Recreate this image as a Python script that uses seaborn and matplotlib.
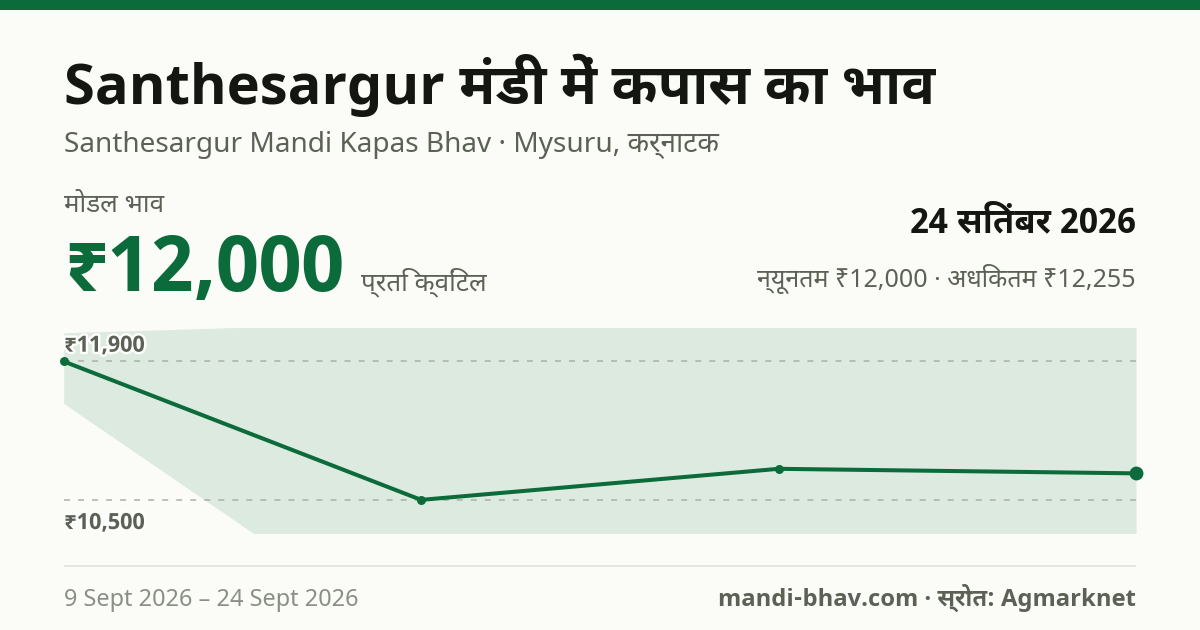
import matplotlib
matplotlib.use('Agg')
import matplotlib.pyplot as plt
import matplotlib.patheffects as pe
import seaborn as sns
import pandas as pd

dates = ['9 Sept', '14 Sept', '19 Sept', '24 Sept']
modal = [11900, 10500, 10814, 10768]
low = [11475, 9000, 9000, 9000]
high = [12190, 12300, 12275, 12255]
grid_values = [11900, 10500]
grid_labels = ['₹11,900', '₹10,500']

GREEN = '#0B6B3A'
BG = '#FBFCF8'
INK = '#141612'
MUTED = '#5C6156'
FAINT = '#8A8F85'

sns.set_theme(style='white')
plt.rcParams['font.family'] = ['Noto Sans', 'DejaVu Sans']
plt.rcParams['lines.scale_dashes'] = False
BOLD = ['Noto Sans Devanagari UI', 'Noto Sans Duployan', 'Noto Sans', 'DejaVu Sans']

W, H = 1200, 630
fig = plt.figure(figsize=(W / 100, H / 100), dpi=100, facecolor=BG)

def T(x, y, s, px, color, weight='normal', ha='left'):
    fam = BOLD if weight == 'bold' else ['Noto Sans', 'DejaVu Sans']
    return fig.text(x / W, 1 - y / H, s, fontsize=px * 0.72, color=color, fontweight=weight,
                    family=fam, ha=ha, va='baseline')

fig.patches.append(plt.Rectangle((0, 1 - 10 / H), 1, 10 / H, transform=fig.transFigure, color=GREEN, lw=0))
fig.patches.append(plt.Rectangle((64 / W, 1 - 567 / H), 1072 / W, 2 / H, transform=fig.transFigure, color='#E4E7E0', lw=0))

T(64, 104, 'Santhesargur मंडी में कपास का भाव', 56, INK, 'bold')
T(64, 152, 'Santhesargur Mandi Kapas Bhav · Mysuru, कर्नाटक', 28, MUTED)
T(64, 212, 'मोडल भाव', 26, MUTED)
T(64, 291, '₹12,000', 77.5, GREEN, 'bold')
T(361, 290, 'प्रति क्विंटल', 26, MUTED)
T(1136, 232, '24 सितंबर 2026', 34.5, INK, 'bold', 'right')
T(1136, 287, 'न्यूनतम ₹12,000 · अधिकतम ₹12,255', 25, MUTED, ha='right')
T(64, 606, f'{dates[0]} 2026 – {dates[-1]} 2026', 23.5, FAINT)
T(1136, 606, 'mandi-bhav.com · स्रोत: Agmarknet', 23.8, MUTED, 'bold', 'right')

ax = fig.add_axes([63.7 / W, (H - 533) / H, 1072.3 / W, 205 / H])
ax.set_facecolor('none')
df = pd.DataFrame({'idx': range(len(dates)), 'date': dates, 'modal': modal, 'low': low, 'high': high})

ax.fill_between(df['idx'], df['low'], df['high'], color=GREEN, alpha=0.12, lw=0, zorder=1)
for v in grid_values:
    ax.axhline(v, color='#ACB0A7', lw=1.1, dashes=(4.3, 5.8), zorder=2)
sns.lineplot(data=df, x='idx', y='modal', ax=ax, color=GREEN, linewidth=2.9, zorder=3,
             solid_capstyle='round', errorbar=None)
sns.scatterplot(data=df.iloc[:-1], x='idx', y='modal', ax=ax, color=GREEN, s=42, linewidth=0, zorder=4, clip_on=False)
sns.scatterplot(data=df.iloc[[-1]], x='idx', y='modal', ax=ax, color=GREEN, s=100, linewidth=0, zorder=4, clip_on=False)

halo = [pe.withStroke(linewidth=3.5, foreground='#FEFEFC')]
ax.annotate(grid_labels[0], (0, grid_values[0]), xytext=(0.3, 7), textcoords='offset points', fontsize=22.3 * 0.72,
            color=MUTED, fontweight='bold', family=BOLD, path_effects=halo, zorder=5)
ax.annotate(grid_labels[1], (0, grid_values[1]), xytext=(0.3, -21), textcoords='offset points', fontsize=22.3 * 0.72,
            color=MUTED, fontweight='bold', family=BOLD, path_effects=halo, zorder=5)

ax.set_xlim(0, 3)
ax.set_ylim(10165, 12238)
ax.axis('off')
fig.savefig('out.png', dpi=100, facecolor=BG)
